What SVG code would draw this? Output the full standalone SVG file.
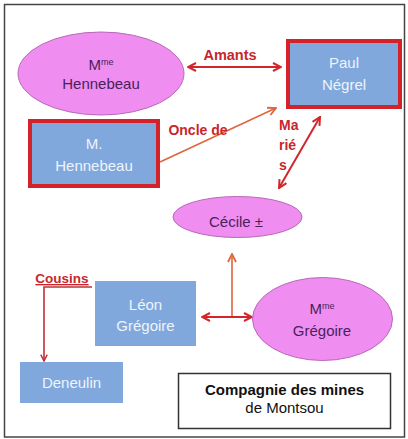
<svg xmlns="http://www.w3.org/2000/svg" width="408" height="439" viewBox="0 0 408 439">
<style>
.t{font-family:"Liberation Sans",Arial,sans-serif;font-size:15px;text-anchor:middle}
.pk{fill:#ef8ef0;stroke:#b868b8;stroke-width:1}
.bl{fill:#80a8dd}
.bx{fill:#80a8dd;stroke:#d3222a;stroke-width:4}
.wt{fill:#eef4fb}
.pt{fill:#4a1f5c}
.lb{font-family:"Liberation Sans",Arial,sans-serif;font-weight:bold;fill:#c8262c}
.r{stroke:#d3262c;stroke-width:2;fill:none}
.o{stroke:#e0653c;stroke-width:1.6;fill:none}
.dr{stroke:#c0303a;stroke-width:1.6;fill:none}
</style>
<defs>
<marker id="ar" viewBox="0 0 10 10" refX="9" refY="5" markerWidth="10" markerHeight="10" markerUnits="userSpaceOnUse" orient="auto-start-reverse"><path d="M1,1 L9,5 L1,9" fill="none" stroke="#d3262c" stroke-width="2"/></marker>
<marker id="ao" viewBox="0 0 10 10" refX="9" refY="5" markerWidth="10" markerHeight="10" markerUnits="userSpaceOnUse" orient="auto-start-reverse"><path d="M1,1 L9,5 L1,9" fill="none" stroke="#e0653c" stroke-width="1.8"/></marker>
<marker id="ad" viewBox="0 0 10 10" refX="9" refY="5" markerWidth="8" markerHeight="8" markerUnits="userSpaceOnUse" orient="auto-start-reverse"><path d="M1,1 L9,5 L1,9" fill="none" stroke="#c0303a" stroke-width="1.8"/></marker>
</defs>
<rect x="0" y="0" width="408" height="439" fill="#ffffff"/>
<rect x="4.5" y="4.5" width="400" height="432.5" fill="none" stroke="#444" stroke-width="1.5"/>

<g id="connectors">
<line class="r" x1="188" y1="67" x2="281" y2="67" marker-start="url(#ar)" marker-end="url(#ar)"/>
<line class="o" x1="160" y1="162" x2="276" y2="108" marker-end="url(#ao)"/>
<line class="r" x1="320" y1="117" x2="279" y2="188" marker-start="url(#ar)" marker-end="url(#ar)"/>
<line class="o" x1="232" y1="317" x2="232" y2="254" marker-end="url(#ao)"/>
<line class="r" x1="202" y1="317" x2="252" y2="317" marker-start="url(#ar)" marker-end="url(#ar)"/>
<polyline class="dr" points="92,287 44,287 44,361" marker-end="url(#ad)"/>
<text class="lb" x="230" y="60" font-size="14.5" text-anchor="middle">Amants</text>
<text class="lb" x="198" y="135" font-size="14" text-anchor="middle">Oncle de</text>
<text class="lb" x="279" y="130" font-size="14">Ma</text>
<text class="lb" x="279" y="150" font-size="14">rié</text>
<text class="lb" x="279" y="170" font-size="14">s</text>
<text class="lb" x="62" y="283" font-size="13.5" text-anchor="middle" text-decoration="underline">Cousins</text>
</g>

<g id="mme-hennebeau">
<ellipse class="pk" cx="101" cy="73.5" rx="83" ry="41.5"/>
<text class="t pt" x="101" y="70">M<tspan font-size="9" dy="-5">me</tspan></text>
<text class="t pt" x="101" y="89">Hennebeau</text>
</g>

<g id="paul-negrel">
<rect class="bx" x="288" y="41" width="112" height="66"/>
<text class="t wt" x="344" y="68">Paul</text>
<text class="t wt" x="344" y="90">Négrel</text>
</g>

<g id="m-hennebeau">
<rect class="bx" x="30" y="121" width="128" height="65"/>
<text class="t wt" x="94" y="149">M.</text>
<text class="t wt" x="94" y="171">Hennebeau</text>
</g>

<g id="cecile">
<ellipse class="pk" cx="237.5" cy="217" rx="64.5" ry="20.5"/>
<text class="t pt" x="236" y="227">Cécile ±</text>
</g>

<g id="leon-gregoire">
<rect class="bl" x="95" y="281" width="101" height="65"/>
<text class="t wt" x="145.5" y="310">Léon</text>
<text class="t wt" x="145.5" y="331">Grégoire</text>
</g>

<g id="mme-gregoire">
<ellipse class="pk" cx="322.5" cy="319" rx="70" ry="41.5"/>
<text class="t pt" x="322" y="314">M<tspan font-size="9" dy="-5">me</tspan></text>
<text class="t pt" x="322" y="336">Grégoire</text>
</g>

<g id="deneulin">
<rect class="bl" x="20" y="362" width="103" height="41"/>
<text class="t wt" x="71.5" y="388">Deneulin</text>
</g>

<g id="compagnie">
<rect x="178.5" y="373.5" width="212" height="55" fill="#fff" stroke="#333" stroke-width="1.5"/>
<text class="t" x="284.5" y="395" font-weight="bold" fill="#111">Compagnie des mines</text>
<text class="t" x="284.5" y="413" font-size="14" fill="#111">de Montsou</text>
</g>
</svg>
